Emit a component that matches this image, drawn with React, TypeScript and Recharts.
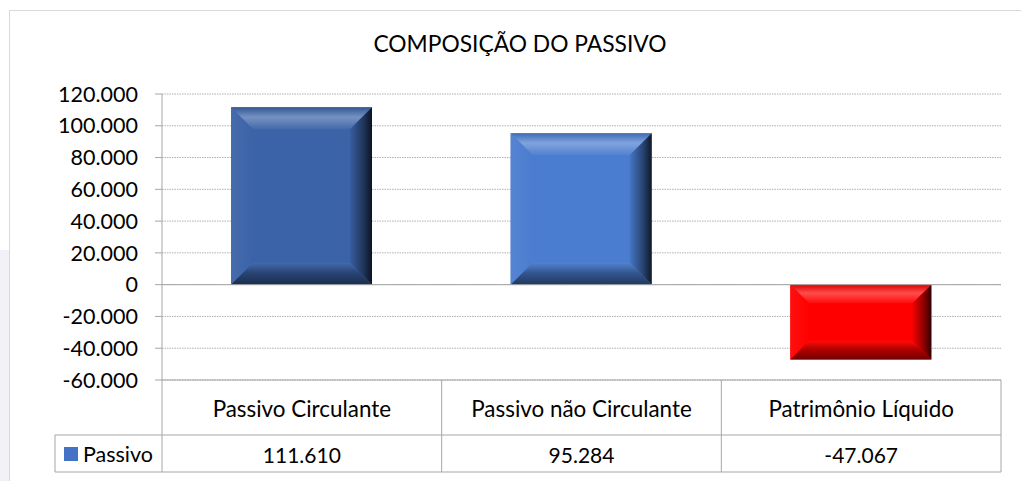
import { BarChart, Bar, XAxis, YAxis, CartesianGrid, ReferenceLine } from 'recharts'

const TITLE = 'COMPOSIÇÃO DO PASSIVO'
const SERIES_NAME = 'Passivo'
const CATEGORIES = ['Passivo Circulante', 'Passivo não Circulante', 'Patrimônio Líquido']
const PASSIVO = [111610, 95284, -47067]
const Y_TICKS = [-60000, -40000, -20000, 0, 20000, 40000, 60000, 80000, 100000, 120000]
const BAR_COLORS = ['#3B63A8', '#4A7CCF', '#FF0000']

const FONT = 'Lato, "Liberation Sans", sans-serif'
const LINE = '#a6a6a6'

const W = 1021
const H = 481
const PLOT_LEFT = 162
const PLOT_RIGHT = 1001
const PLOT_TOP = 94
const PLOT_BOTTOM = 380
const Y_AXIS_W = 100
const X_AXIS_H = 92
const ROW1_BOTTOM = 435
const ROW2_BOTTOM = 472
const LEGEND_LEFT = 55
const BAND = (PLOT_RIGHT - PLOT_LEFT) / CATEGORIES.length

const data = CATEGORIES.map((name, i) => ({ name, value: PASSIVO[i] }))

const fmt = (v: number) => {
  const s = Math.abs(Math.round(v)).toString().replace(/\B(?=(\d{3})+(?!\d))/g, '.')
  return (v < 0 ? '-' : '') + s
}

// mix a hex colour toward another
const mix = (hex: string, to: string, t: number) => {
  const a = parseInt(hex.slice(1), 16)
  const b = parseInt(to.slice(1), 16)
  const ch = (n: number, s: number) => (n >> s) & 255
  const c = [16, 8, 0].map(s => Math.round(ch(a, s) + (ch(b, s) - ch(a, s)) * t))
  return '#' + c.map(n => n.toString(16).padStart(2, '0')).join('')
}

function BevelBar(props: any) {
  const { x, y, width, height, index } = props
  const top = height < 0 ? y + height : y
  const h = Math.abs(height)
  const w = width
  const b = Math.min(22, w / 4, h / 4)
  const base = BAR_COLORS[index]
  const id = `bev${index}`
  const k = '#000000'
  const wh = '#ffffff'
  return (
    <g>
      <defs>
        <linearGradient id={id + 't'} x1="0" y1="0" x2="0" y2="1">
          <stop offset="0" stopColor={mix(base, k, 0.12)} />
          <stop offset="0.45" stopColor={mix(base, wh, 0.3)} />
          <stop offset="1" stopColor={mix(base, wh, 0.04)} />
        </linearGradient>
        <linearGradient id={id + 'l'} x1="0" y1="0" x2="1" y2="0">
          <stop offset="0" stopColor={mix(base, wh, 0.06)} />
          <stop offset="1" stopColor={base} />
        </linearGradient>
        <linearGradient id={id + 'r'} x1="0" y1="0" x2="1" y2="0">
          <stop offset="0" stopColor={mix(base, k, 0.05)} />
          <stop offset="0.6" stopColor={mix(base, k, 0.45)} />
          <stop offset="1" stopColor={mix(base, k, 0.8)} />
        </linearGradient>
        <linearGradient id={id + 'b'} x1="0" y1="0" x2="0" y2="1">
          <stop offset="0" stopColor={mix(base, wh, 0.05)} />
          <stop offset="0.45" stopColor={mix(base, k, 0.3)} />
          <stop offset="1" stopColor={mix(base, k, 0.55)} />
        </linearGradient>
      </defs>
      <rect x={x} y={top} width={w} height={h} fill={base} />
      <polygon points={`${x},${top} ${x + w},${top} ${x + w - b},${top + b} ${x + b},${top + b}`} fill={`url(#${id}t)`} />
      <polygon points={`${x},${top} ${x + b},${top + b} ${x + b},${top + h - b} ${x},${top + h}`} fill={`url(#${id}l)`} />
      <polygon points={`${x + w},${top} ${x + w},${top + h} ${x + w - b},${top + h - b} ${x + w - b},${top + b}`} fill={`url(#${id}r)`} />
      <polygon points={`${x},${top + h} ${x + b},${top + h - b} ${x + w - b},${top + h - b} ${x + w},${top + h}`} fill={`url(#${id}b)`} />
    </g>
  )
}

function TableTick(props: any) {
  const { x, index } = props
  const half = BAND / 2
  return (
    <g fontFamily={FONT} fill="#000">
      {index === 0 && (
        <g>
          <line x1={x - half} y1={PLOT_BOTTOM} x2={x - half} y2={ROW2_BOTTOM} stroke={LINE} />
          <line x1={LEGEND_LEFT} y1={ROW1_BOTTOM} x2={x - half} y2={ROW1_BOTTOM} stroke={LINE} />
          <line x1={LEGEND_LEFT} y1={ROW2_BOTTOM} x2={x - half} y2={ROW2_BOTTOM} stroke={LINE} />
          <line x1={LEGEND_LEFT} y1={ROW1_BOTTOM} x2={LEGEND_LEFT} y2={ROW2_BOTTOM} stroke={LINE} />
          <rect x={LEGEND_LEFT + 9} y={447} width={14} height={14} fill="#4472C4" />
          <text x={LEGEND_LEFT + 28} y={454} fontSize={21.5} dominantBaseline="central">{SERIES_NAME}</text>
        </g>
      )}
      <line x1={x + half} y1={PLOT_BOTTOM} x2={x + half} y2={ROW2_BOTTOM} stroke={LINE} />
      <line x1={x - half} y1={ROW1_BOTTOM} x2={x + half} y2={ROW1_BOTTOM} stroke={LINE} />
      <line x1={x - half} y1={ROW2_BOTTOM} x2={x + half} y2={ROW2_BOTTOM} stroke={LINE} />
      <text x={x} y={408} fontSize={22.4} textAnchor="middle" dominantBaseline="central">{CATEGORIES[index]}</text>
      <text x={x} y={454} fontSize={21} textAnchor="middle" dominantBaseline="central">{fmt(PASSIVO[index])}</text>
    </g>
  )
}

export default function App() {
  return (
    <div style={{ position: 'absolute', left: 0, top: 0, width: W, height: H, background: '#fff', overflow: 'hidden' }}>
      <div style={{ position: 'absolute', left: 0, top: 250, width: 9, height: H - 250, background: '#f1f1f7' }} />
      <div style={{ position: 'absolute', left: 9, top: 10, width: W - 9, height: H - 10, borderTop: '1px solid #d9d9d9', borderLeft: '1px solid #d9d9d9' }} />
      <div style={{ position: 'absolute', left: 0, top: 29, width: 1040, textAlign: 'center', fontFamily: FONT, fontSize: 22.8, color: '#000' }}>
        {TITLE}
      </div>
      <div style={{ position: 'absolute', left: 0, top: 0 }}>
        <BarChart
          width={W}
          height={H}
          data={data}
          margin={{ top: PLOT_TOP, right: W - PLOT_RIGHT, bottom: H - PLOT_BOTTOM - X_AXIS_H, left: PLOT_LEFT - Y_AXIS_W }}
        >
          <CartesianGrid vertical={false} stroke="#b0b0b0" strokeDasharray="1.5 1" />
          <XAxis
            dataKey="name"
            height={X_AXIS_H}
            interval={0}
            axisLine={{ stroke: LINE }}
            tickLine={false}
            tick={<TableTick />}
          />
          <YAxis
            width={Y_AXIS_W}
            domain={[-60000, 120000]}
            ticks={Y_TICKS}
            interval={0}
            tickFormatter={fmt}
            axisLine={{ stroke: LINE }}
            tickLine={{ stroke: LINE }}
            tickSize={7}
            tickMargin={17}
            tick={{ fill: '#000', fontSize: 21.5, fontFamily: FONT }}
          />
          <ReferenceLine y={0} stroke={LINE} />
          <Bar dataKey="value" barSize={141} shape={<BevelBar />} isAnimationActive={false} />
        </BarChart>
      </div>
    </div>
  )
}
